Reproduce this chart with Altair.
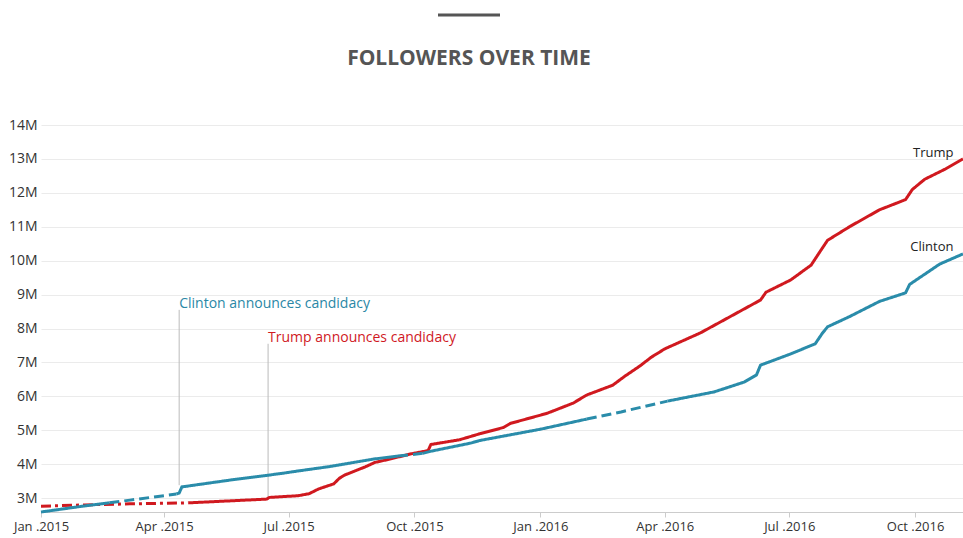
import altair as alt
import pandas as pd

# ---------------- data (values in millions of followers) ----------------
clinton_dates = ["2015-01-01", "2015-02-02", "2015-02-20", "2015-03-07", "2015-04-10",
                 "2015-04-12", "2015-04-14", "2015-05-19", "2015-06-17", "2015-06-28",
                 "2015-07-08", "2015-07-31", "2015-09-01", "2015-09-19", "2015-10-07",
                 "2015-10-14", "2015-11-11", "2015-11-18", "2016-01-01", "2016-02-04",
                 "2016-02-29", "2016-04-03", "2016-05-07", "2016-05-29", "2016-06-07",
                 "2016-06-10", "2016-07-02", "2016-07-20", "2016-07-25", "2016-07-29",
                 "2016-08-14", "2016-09-05", "2016-09-24", "2016-09-27", "2016-10-08",
                 "2016-10-19", "2016-11-05"]
clinton_values = [2.59, 2.77, 2.86, 2.94, 3.12,
                  3.15, 3.33, 3.53, 3.68, 3.74,
                  3.80, 3.93, 4.15, 4.24, 4.32,
                  4.39, 4.62, 4.70, 5.03, 5.33,
                  5.54, 5.86, 6.13, 6.42, 6.63,
                  6.92, 7.25, 7.55, 7.85, 8.05,
                  8.35, 8.80, 9.05, 9.30, 9.60,
                  9.90, 10.20]

trump_dates = ["2015-01-01", "2015-02-02", "2015-03-07", "2015-04-19", "2015-06-15",
               "2015-06-17", "2015-07-08", "2015-07-16", "2015-07-23", "2015-08-03",
               "2015-08-07", "2015-08-11", "2015-08-26", "2015-09-02", "2015-09-13",
               "2015-09-28", "2015-10-11", "2015-10-13", "2015-11-03", "2015-11-18",
               "2015-12-05", "2015-12-10", "2016-01-06", "2016-01-25", "2016-02-04",
               "2016-02-23", "2016-03-03", "2016-03-14", "2016-03-22", "2016-04-01",
               "2016-04-27", "2016-05-12", "2016-06-10", "2016-06-14", "2016-07-02",
               "2016-07-17", "2016-07-24", "2016-07-29", "2016-08-14", "2016-09-05",
               "2016-09-24", "2016-09-29", "2016-10-08", "2016-10-23", "2016-11-05"]
trump_values = [2.76, 2.80, 2.83, 2.86, 2.97,
                3.02, 3.07, 3.13, 3.27, 3.42,
                3.58, 3.68, 3.92, 4.05, 4.15,
                4.30, 4.40, 4.58, 4.72, 4.90,
                5.08, 5.20, 5.50, 5.80, 6.04,
                6.33, 6.60, 6.90, 7.15, 7.40,
                7.87, 8.20, 8.84, 9.07, 9.43,
                9.87, 10.30, 10.60, 11.00, 11.50,
                11.80, 12.10, 12.40, 12.70, 13.00]

# spans where the line is drawn dashed (gaps in the record)
clinton_dashed = [("2015-02-20", "2015-04-10", "dash"),
                  ("2015-09-19", "2015-10-07", "dash"),
                  ("2016-02-04", "2016-04-03", "dash")]
trump_dashed = [("2015-01-01", "2015-04-19", "dashdot")]

y_ticks = [3, 4, 5, 6, 7, 8, 9, 10, 11, 12, 13, 14]

events = ["Clinton announces candidacy", "Trump announces candidacy"]
event_dates = ["2015-04-12", "2015-06-16"]
event_top = [8.55, 7.55]
event_bottom = [3.38, 2.97]
event_text_y = [8.72, 7.72]
event_colors = ["#2a87a6", "#d0191f"]

end_labels = ["Trump", "Clinton"]
end_label_dates = ["2016-10-29", "2016-10-29"]
end_label_values = [13.17, 10.40]

RED = "#d0191f"
BLUE = "#2a8caa"


def build_segments(name, dates, values, dashed):
    rows = []
    seg_id = 0
    prev_style = None
    for i in range(len(dates) - 1):
        d0, d1 = dates[i], dates[i + 1]
        style = "solid"
        for a, b, s in dashed:
            if d0 >= a and d1 <= b:
                style = s
        if style != prev_style:
            seg_id += 1
            prev_style = style
            rows.append(dict(series=name, seg=f"{name}{seg_id}", style=style,
                             date=d0, value=values[i]))
        rows.append(dict(series=name, seg=f"{name}{seg_id}", style=style,
                         date=d1, value=values[i + 1]))
    return rows


rows = build_segments("Trump", trump_dates, trump_values, trump_dashed) + \
       build_segments("Clinton", clinton_dates, clinton_values, clinton_dashed)
df = pd.DataFrame(rows)
df["date"] = pd.to_datetime(df["date"])

ev = pd.DataFrame(dict(text=events, date=pd.to_datetime(event_dates), top=event_top,
                       bottom=event_bottom, ty=event_text_y, color=event_colors))
endl = pd.DataFrame(dict(text=end_labels, date=pd.to_datetime(end_label_dates),
                         value=end_label_values))

FONT = "Open Sans"

x_scale = alt.Scale(domain=[alt.DateTime(year=2015, month=1, date=1),
                            alt.DateTime(year=2016, month=11, date=5)])
y_scale = alt.Scale(domain=[2.59, 14], nice=False, zero=False)

tick_vals = [alt.DateTime(year=y, month=m, date=1)
             for y, m in [(2015, 1), (2015, 4), (2015, 7), (2015, 10),
                          (2016, 1), (2016, 4), (2016, 7), (2016, 10)]]

x_axis = alt.Axis(values=tick_vals, format="%b .%Y", title=None, grid=False,
                  domain=True, domainColor="#cccccc", tickColor="#cccccc", tickSize=5,
                  labelFont=FONT, labelFontSize=13, labelColor="#333333",
                  labelPadding=3, labelFlush=False, labelOverlap=False)
y_axis = alt.Axis(values=y_ticks, labelExpr="datum.value + 'M'", title=None,
                  grid=True, gridColor="#ebebeb", domain=False, ticks=False,
                  labelFont=FONT, labelFontSize=14, labelColor="#333333",
                  labelPadding=4, labelOverlap=False, labelFlush=False)


def X(field):
    return alt.X(field, scale=x_scale, axis=x_axis)


def Y(field):
    return alt.Y(field, scale=y_scale, axis=y_axis)


lines = alt.Chart(df).mark_line(strokeWidth=3, strokeCap="butt").encode(
    x=X("date:T"),
    y=Y("value:Q"),
    color=alt.Color("series:N", scale=alt.Scale(domain=["Trump", "Clinton"],
                                                range=[RED, BLUE]), legend=None),
    strokeDash=alt.StrokeDash("style:N", scale=alt.Scale(
        domain=["solid", "dash", "dashdot"],
        range=[[1, 0], [10, 5], [10, 4, 3, 4]]), legend=None),
    detail="seg:N",
    order="date:T",
)

ev_rules = alt.Chart(ev).mark_rule(color="#bbbbbb", strokeWidth=1).encode(
    x=X("date:T"),
    y=Y("top:Q"),
    y2="bottom:Q",
)
ev_text = alt.Chart(ev).mark_text(align="left", baseline="middle", font=FONT,
                                  fontSize=14, dx=0).encode(
    x=X("date:T"),
    y=Y("ty:Q"),
    text="text:N",
    color=alt.Color("color:N", scale=None),
)
end_text = alt.Chart(endl).mark_text(align="right", baseline="middle", font=FONT,
                                     fontSize=13, color="#222222").encode(
    x=X("date:T"),
    y=Y("value:Q"),
    text="text:N",
)

title_text = alt.Chart(pd.DataFrame({"t": ["FOLLOWERS OVER TIME"]})).mark_text(
    font=FONT, fontSize=21, fontWeight="bold", color="#555555",
    align="center", baseline="middle").encode(
    x=alt.value(428), y=alt.value(-66), text="t:N")

top_bar = alt.Chart(pd.DataFrame({"a": [0]})).mark_rule(
    color="#555555", strokeWidth=3).encode(
    x=alt.value(397), x2=alt.value(459), y=alt.value(-110))

chart = alt.layer(ev_rules, lines, ev_text, end_text, title_text, top_bar).properties(
    width=922, height=387,
    autosize=alt.AutoSizeParams(type="none"),
    padding={"left": 41, "top": 125, "right": 0, "bottom": 26},
).configure(background="white").configure_view(stroke=None)

chart.save("out.html", embed_options={"renderer": "svg", "actions": False})
